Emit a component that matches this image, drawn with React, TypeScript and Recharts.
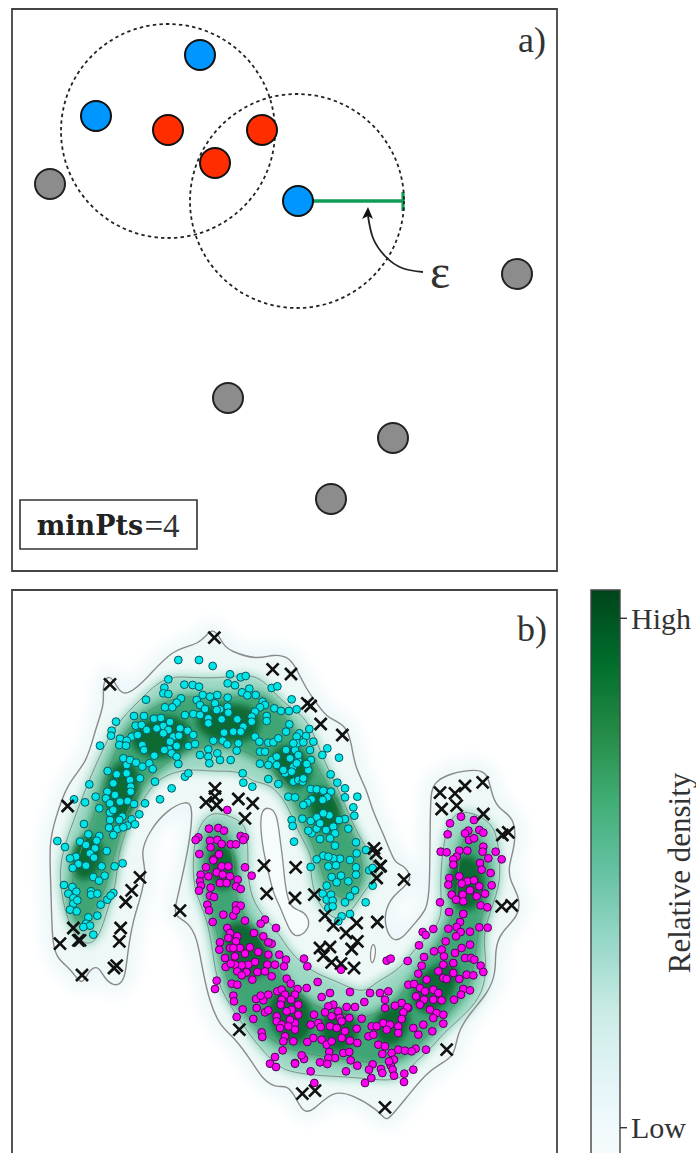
import { BarChart, Bar, Label, ReferenceArea, ReferenceDot, ReferenceLine, Scatter, ScatterChart, XAxis, YAxis } from 'recharts';

type Pt = { x: number; y: number };
type Pair = [number, number];

const serif = '"Liberation Serif", serif';
const ink = '#333';

// panel a
const corePoints: Pair[] = [[168, 130], [262, 130], [215, 163]];
const borderPoints: Pair[] = [[200, 55], [96, 116], [298, 201]];
const noisePoints: Pair[] = [[50, 184], [517, 274], [228, 398], [393, 438], [331, 499]];
const epsCircles: Pair[] = [[168, 131], [297, 201]];
const arrowPath: Pair[] = [[423, 272], [402, 268], [385, 256], [373, 238], [368, 216]];
const arrowTip: Pair[] = [[368, 213]];

// panel b: read from four enlarged sheets, three sheet units to a pixel
const cyanTopLeft: Pair[] = [
  [535,210],[597,210],[638,228],[505,268],[690,253],[722,262],[737,258],[553,284],[578,285],[597,290],[683,280],[705,286],[815,294],[832,289],[493,293],[490,310],[505,312],[726,307],[748,296],[742,316],[767,315],[438,329],[543,325],[530,338],[495,352],[517,352],[608,315],[630,320],[652,315],[683,323],[590,330],[600,345],[645,340],[683,350],[660,358],[788,335],[795,345],[780,352],[875,328],[823,355],[843,363],[867,363],[890,358],[765,365],[755,380],[800,378],[402,378],[432,378],[348,395],[462,386],[483,384],[555,375],[580,372],[600,375],[625,385],[625,400],[615,357],[650,360],[685,368],[665,388],[712,388],[755,395],[800,393],[868,403],[898,430],[407,407],[425,405],[440,420],[490,408],[510,396],[540,415],[470,415],[335,422],[333,437],[395,440],[413,435],[360,446],[380,452],[358,465],[378,467],[300,467],[427,465],[432,480],[505,420],[490,430],[520,440],[537,437],[563,422],[580,435],[510,455],[530,468],[507,478],[493,480],[515,490],[530,500],[535,522],[463,497],[565,468],[585,462],[600,495],[625,478],[625,500],[652,490],[628,520],[660,510],[692,510],[640,452],[668,452],[682,463],[672,428],[700,425],[730,410],[722,425],[715,460],[710,482],[765,440],[778,455],[805,458],[820,457],[835,445],[858,425],[780,485],[795,485],[780,521],[815,510],[830,500],[858,480],[885,480],[805,525],[830,525],[855,550],[880,530],[895,510],[850,540],[870,505],[805,567],[835,582],[880,575],[865,620],[885,622],[875,690],[878,708],[882,755],[890,520],[895,495],[875,545],[895,570],[890,440],[893,460],[880,460],
  [370,505],[380,525],[390,510],[408,518],[427,530],[448,520],[458,537],[323,543],[350,553],[380,550],[340,580],[322,605],[345,615],[318,625],[390,570],[420,565],[392,590],[465,575],[555,560],[565,550],[515,595],[480,628],[728,550],[730,578],[757,590],[268,583],[222,628],[255,637],[287,620],[392,605],[330,640],[360,635],[383,633],[402,642],[298,655],[435,640],[330,668],[340,660],[367,680],[395,688],[418,673],[405,703],[382,707],[330,690],[358,690],[252,702],[327,713],[352,717],[370,712],[340,735],[265,733],[240,755],[298,738],[290,752],[258,765],[285,775],[172,753],[195,771],[270,790],[320,783],[282,803],[228,800],[210,805],
];
const cyanTopRight: Pair[] = [
  [118,417],[130,455],[108,438],[100,457],[120,480],[172,475],[157,495],[207,503],[123,510],[115,540],[110,522],[98,575],[100,565],[182,553],[202,578],[225,595],[262,620],[225,622],[250,652],[253,677],[225,687],[207,690],[190,710],[178,676],[160,670],[140,682],[122,693],[235,716],[195,730],[180,745],[150,747],[125,730],[115,722],[140,716],[168,720],[195,767],[258,757],[288,780],[160,797],[140,808],[260,790],[240,810],[210,806],[190,805],[175,800],[122,597],[140,598],[160,602],[183,605],[172,622],[158,630],[125,628],[112,638],[100,645],[97,686],[150,700],
];
const cyanBottomLeft: Pair[] = [
  [235,33],[218,45],[258,38],[305,40],[344,40],[368,31],[280,72],[297,83],[314,68],[192,96],[217,102],[229,116],[205,122],[273,115],[273,125],[292,122],[220,135],[220,152],[232,142],[340,120],[322,140],[302,155],[210,170],[230,175],[265,193],[292,188],[258,212],[270,218],[250,222],[280,245],[332,128],
];
const cyanBottomRight: Pair[] = [
  [122,42],[175,40],[198,37],[258,43],[258,65],[213,68],[185,72],[200,88],[235,85],[298,52],[308,98],[170,98],[255,112],[158,122],[170,140],[183,125],[188,143],[175,165],[188,160],[240,130],[225,148],[287,148],[240,183],[215,190],[205,205],[308,45],
];

const magentaTopLeft: Pair[] = [
  [682,660],[627,716],[655,714],[672,722],[722,738],[735,742],[730,750],[595,742],[587,750],[652,750],[630,752],[632,772],[665,762],[692,763],[708,763],[598,792],[657,793],[640,808],
];
const magentaTopRight: Pair[] = [
  [540,700],[573,680],[612,690],[533,733],[595,722],[585,730],[628,720],[640,728],[597,750],[612,745],[640,770],[512,785],[530,787],[568,782],[592,782],[677,785],[695,808],[655,805],[638,785],[560,800],[550,808],
];
const magentaBottomLeft: Pair[] = [
  [618,43],[640,22],[665,40],[685,40],[735,43],[755,68],[602,65],[625,70],[650,58],[668,65],[690,70],[600,85],[603,98],[597,113],[632,104],[660,90],[680,90],[713,80],[708,100],[722,108],[630,128],[642,132],[622,155],[627,172],[708,157],[722,158],[670,185],[700,188],[708,172],[735,203],[638,207],[795,200],[782,212],[828,225],[682,225],[690,240],[685,255],[762,240],[712,250],[708,265],[790,250],[660,268],[690,285],[720,285],[750,283],[658,290],[735,302],[775,297],[700,285],[675,315],[705,310],[765,327],[745,335],[725,337],[705,335],[677,342],[692,332],[805,305],[815,272],[805,268],[838,305],[858,320],[802,335],[825,335],[852,340],[712,355],[740,358],[772,357],[795,355],[725,367],[757,380],[815,370],[860,377],[872,392],[650,383],[645,408],[695,392],[712,395],[700,428],[702,445],[768,438],[790,442],[805,425],[782,428],[832,415],[845,410],[893,408],[855,425],[885,425],[873,440],[845,440],[842,455],[875,470],[895,455],[728,469],[770,465],[795,478],[805,472],[710,492],[760,498],[830,490],[860,475],[830,505],[885,510],[895,485],[845,515],[870,500],[855,550],[880,565],[850,565],[785,538],[787,552],[848,592],[825,612],[810,632],[828,642],[885,630],[865,520],[885,530],[840,525],
];
const magentaBottomRight: Pair[] = [
  [662,60],[665,97],[630,30],[635,50],[550,35],[538,75],[535,95],[568,70],[592,85],[612,82],[628,100],[575,92],[600,112],[620,130],[645,122],[578,125],[545,125],[558,140],[632,157],[652,163],[510,148],[580,145],[537,177],[580,183],[570,207],[535,227],[560,222],[572,237],[600,236],[628,223],[653,224],[490,228],[458,237],[467,246],[447,277],[527,265],[558,250],[600,275],[575,285],[492,295],[515,290],[522,310],[555,300],[585,315],[603,315],[613,320],[462,312],[413,324],[350,323],[362,317],[455,338],[520,335],[505,355],[550,330],[632,338],[640,357],[520,375],[530,378],[550,360],[568,378],[590,365],[610,367],[445,362],[470,380],[415,395],[432,393],[450,405],[438,430],[465,415],[490,410],[462,440],[490,440],[515,442],[505,420],[580,408],[600,412],[552,440],[573,425],[450,455],[480,470],[500,480],[520,485],[490,495],[520,512],[460,515],[487,535],[430,525],[445,545],[415,465],[395,450],[375,458],[412,463],[400,478],[395,498],[355,415],[330,420],[345,440],[345,465],[300,420],[283,447],[240,417],[180,420],[143,387],[110,405],[102,317],[112,340],[213,350],[155,432],[190,455],[175,460],[205,475],[185,490],[210,495],[165,478],[230,462],[255,462],[238,495],[275,497],[132,485],[122,515],[145,510],[152,522],[180,520],[200,525],[215,505],[260,527],[225,535],[295,550],[305,520],[320,520],[340,510],[360,515],[385,520],[385,540],[350,530],[310,545],[325,575],[345,580],[337,603],[365,600],[385,590],[405,593],[437,587],[468,590],[425,595],[130,555],[112,567],[155,560],[170,575],[185,565],[215,555],[240,563],[262,570],[178,597],[220,600],[238,597],[195,615],[175,615],[150,628],[172,633],[242,622],[262,638],[308,634],[297,650],[333,648],[337,660],[372,620],[362,637],[357,625],[368,650],[372,668],[403,662],[430,650],[402,687],[304,675],[285,690],[228,655],[122,655],[133,690],[102,618],[95,607],[75,632],
];

const noiseTopLeft: Pair[] = [[643,143],[818,238],[873,252],[330,283],[645,595],[645,620],[618,637],[650,645],[715,627],[758,640],[735,685],[203,648]];
const noiseTopRight: Pair[] = [[112,340],[122,348],[152,402],[217,435],[312,775],[318,790],[332,828],[510,608],[555,610],[585,588],[638,577],[515,657],[560,647],[640,672],[697,735],[715,727]];
const noiseBottomLeft: Pair[] = [[792,38],[887,43],[420,73],[395,112],[377,147],[800,122],[885,135],[540,173],[220,225],[235,262],[240,262],[180,272],[362,225],[358,265],[350,338],[342,345],[246,366],[718,530]];
const noiseBottomRight: Pair[] = [[330,40],[320,75],[402,80],[133,125],[165,188],[190,217],[260,210],[322,207],[228,240],[262,265],[245,288],[150,285],[180,282],[160,308],[185,328],[213,332],[252,345],[695,160],[725,157],[530,590],[97,722],[135,713],[345,763]];

// density contours, picture pixels
const outerContour: Pair[] = [
  [213,624],[223,645],[230,651],[257,660],[273,654],[290,657],[298,672],[307,690],[318,705],[327,718],[347,725],[352,747],[355,767],[367,790],[372,810],[385,837],[395,865],[403,864],[413,878],[403,888],[393,896],[385,910],[385,928],[393,942],[403,938],[413,925],[427,910],[430,890],[430,797],[433,783],[450,773],[477,769],[488,773],[492,797],[500,810],[514,817],[516,843],[508,867],[510,881],[520,898],[519,916],[500,933],[495,950],[496,973],[488,993],[470,1013],[457,1033],[455,1056],[440,1064],[427,1073],[410,1093],[390,1118],[385,1120],[378,1110],[353,1095],[333,1090],[313,1111],[303,1113],[295,1096],[287,1085],[277,1088],[263,1080],[253,1063],[233,1036],[220,1026],[210,1003],[203,973],[197,936],[187,921],[173,916],[177,900],[183,873],[190,840],[193,807],[187,800],[167,810],[150,830],[140,853],[147,870],[140,900],[133,920],[127,956],[125,982],[113,987],[103,976],[98,965],[88,971],[82,987],[72,970],[56,958],[52,940],[51,886],[49,843],[55,820],[67,783],[87,763],[95,730],[105,703],[102,687],[108,674],[115,682],[122,697],[140,687],[173,647],[200,646],
];
const contourHole: Pair[] = [[268,807],[277,812],[280,840],[283,860],[285,886],[290,908],[300,910],[308,916],[310,928],[298,938],[290,933],[280,906],[273,893],[268,870],[263,850],[260,823],[262,810]];
const contourSliver: Pair[] = [[373,943],[376,948],[375,958],[372,965],[370,958],[371,948]];
const upperBand: Pair[] = [
  [87,948],[70,930],[60,890],[60,860],[70,830],[85,790],[100,755],[115,725],[140,700],[165,675],[193,678],[225,678],[253,673],[270,687],[283,703],[307,717],[320,750],[327,767],[342,797],[355,830],[370,853],[380,877],[367,886],[353,910],[337,923],[320,906],[313,890],[310,866],[313,857],[297,830],[287,803],[270,783],[253,783],[240,770],[213,772],[187,768],[157,778],[143,800],[128,823],[117,857],[117,883],[107,910],[100,936],
];
const lowerBand: Pair[] = [
  [210,810],[233,817],[247,825],[248,853],[248,886],[257,910],[277,930],[290,953],[313,973],[337,981],[363,995],[377,981],[400,970],[413,950],[430,936],[443,916],[440,890],[442,850],[450,817],[463,810],[483,817],[497,830],[500,863],[500,886],[487,920],[483,940],[487,966],[483,993],[467,1013],[443,1033],[430,1050],[410,1066],[400,1083],[355,1077],[320,1076],[290,1072],[277,1066],[253,1040],[233,1010],[217,983],[213,953],[207,916],[193,890],[193,853],[197,830],
];
const upperMid: Pair[] = [[75,925],[68,895],[80,850],[95,815],[100,790],[120,740],[135,720],[165,700],[195,695],[235,700],[265,690],[290,725],[320,770],[340,810],[360,850],[365,880],[345,905],[325,885],[318,855],[300,815],[285,775],[260,760],[235,745],[205,745],[175,755],[150,775],[130,800],[115,850],[105,890],[90,925]];
const lowerMid: Pair[] = [[212,825],[225,830],[235,860],[233,890],[245,920],[265,945],[285,985],[310,1005],[340,1015],[365,1020],[395,1005],[415,975],[440,945],[458,905],[458,860],[465,830],[478,835],[488,860],[490,890],[478,925],[475,965],[465,995],[440,1020],[415,1050],[390,1065],[350,1060],[310,1055],[275,1045],[250,1020],[228,990],[222,950],[212,915],[205,885],[203,850]];
const densityCores: Pair[][] = [
  [[75,850],[88,835],[100,845],[98,865],[85,880],[75,870]],
  [[108,800],[112,770],[130,760],[138,780],[130,810],[115,825]],
  [[130,735],[160,715],[190,725],[185,750],[160,755],[140,752]],
  [[195,715],[225,705],[260,712],[255,735],[235,740],[205,735]],
  [[270,755],[290,745],[310,765],[305,785],[285,785]],
  [[310,790],[330,790],[340,815],[330,835],[315,820]],
  [[212,845],[228,848],[235,875],[225,890],[212,880]],
  [[228,925],[250,925],[270,955],[262,975],[240,975],[228,950]],
  [[272,995],[295,990],[312,1015],[305,1040],[285,1040],[272,1020]],
  [[322,1015],[345,1010],[358,1030],[345,1050],[325,1045]],
  [[378,1015],[400,1005],[410,1020],[395,1045],[378,1040]],
  [[415,985],[440,965],[458,965],[450,995],[430,1012],[415,1005]],
  [[452,865],[470,855],[482,875],[478,905],[460,910],[452,890]],
];
const panelBTicks = [604, 713, 822, 930, 1039, 1148];

// colour bar
const densityStops = ['#00441b', '#006d2c', '#238b45', '#41ae76', '#66c2a4', '#99d8c9', '#ccece6', '#e5f5f9', '#f7fcfd'];
const colorbarTicks = [0.05, 0.95];
const colorbarRow = [{ name: 'density', top: 1 }];

const toPts = (rows: Pair[]): Pt[] => rows.map(([x, y]) => ({ x, y }));
const fromSheet = (rows: Pair[], left: number, top: number): Pt[] =>
  rows.map(([x, y]) => ({ x: left + x / 3, y: top + y / 3 }));
const onSheets = (tl: Pair[], tr: Pair[], bl: Pair[], br: Pair[]): Pt[] => [
  ...fromSheet(tl, 0, 590),
  ...fromSheet(tr, 270, 590),
  ...fromSheet(bl, 0, 853),
  ...fromSheet(br, 270, 853),
];

const dot = (r: number, fill: string, stroke: string, strokeWidth: number) => (p: any) => (
  <circle cx={p.cx} cy={p.cy} r={r} fill={fill} stroke={stroke} strokeWidth={strokeWidth} />
);
const cross = (p: any) => (
  <path
    d={`M${p.cx - 6} ${p.cy - 6}L${p.cx + 6} ${p.cy + 6}M${p.cx - 6} ${p.cy + 6}L${p.cx + 6} ${p.cy - 6}`}
    stroke="#111"
    strokeWidth={2.7}
    fill="none"
  />
);
const arrowHead = (p: any) => (
  <path d={`M${p.cx} ${p.cy - 6}L${p.cx + 5} ${p.cy + 6}L${p.cx} ${p.cy + 3}L${p.cx - 6} ${p.cy + 6}Z`} fill="#111" />
);
const noMark = () => <g />;

const region = (key: string, rows: Pair[], line: any) => (
  <Scatter
    key={key}
    data={toPts(rows)}
    shape={noMark}
    line={line}
    lineJointType="basisClosed"
    isAnimationActive={false}
  />
);

const word = (x: number, y: number, value: string, size: number, extra: any = {}) => (
  <ReferenceDot
    x={x}
    y={y}
    r={0}
    fill="none"
    stroke="none"
    label={{ value, position: 'center', fontSize: size, fontFamily: serif, fill: ink, ...extra }}
  />
);

function PanelA() {
  return (
    <ScatterChart width={570} height={580} margin={{ top: 9, right: 13, bottom: 9, left: 12 }} style={{ position: 'absolute', left: 0, top: 0 }}>
      <XAxis type="number" dataKey="x" domain={[12, 557]} hide allowDataOverflow />
      <YAxis type="number" dataKey="y" domain={[9, 571]} reversed hide allowDataOverflow />
      {epsCircles.map(([x, y]) => (
        <ReferenceDot key={x} x={x} y={y} r={107} fill="none" stroke="#222" strokeWidth={1.8} strokeDasharray="3.4 3.2" />
      ))}
      <ReferenceLine segment={[{ x: 313, y: 201 }, { x: 403, y: 201 }]} stroke="#0f9d58" strokeWidth={3.4} />
      <ReferenceLine segment={[{ x: 403, y: 192 }, { x: 403, y: 211 }]} stroke="#0f9d58" strokeWidth={3.2} />
      <Scatter data={toPts(corePoints)} shape={dot(15, '#ff2d00', '#111', 2)} isAnimationActive={false} />
      <Scatter data={toPts(borderPoints)} shape={dot(15, '#0096ff', '#111', 2)} isAnimationActive={false} />
      <Scatter data={toPts(noisePoints)} shape={dot(15, '#8c8c8c', '#222', 2)} isAnimationActive={false} />
      <Scatter data={toPts(arrowPath)} shape={noMark} line={{ stroke: '#222', strokeWidth: 1.8 }} lineJointType="natural" isAnimationActive={false} />
      <Scatter data={toPts(arrowTip)} shape={arrowHead} isAnimationActive={false} />
      {word(440, 271, 'ε', 48)}
      {word(532, 39, 'a)', 36)}
      <ReferenceArea x1={20} x2={197} y1={500} y2={549} fill="#fff" fillOpacity={1} stroke="#333" strokeWidth={1.6} />
      {word(90, 525, 'minPts', 27, { fontFamily: '"DejaVu Serif", serif', fontWeight: 700, fill: '#222' })}
      {word(162, 525, '=4', 33)}
      <ReferenceArea x1={12} x2={557} y1={9} y2={571} fill="none" stroke="#444" strokeWidth={1.8} />
    </ScatterChart>
  );
}

function PanelB() {
  return (
    <ScatterChart width={570} height={590} margin={{ top: 10, right: 13, bottom: 14, left: 0 }} style={{ position: 'absolute', left: 0, top: 580 }}>
      <defs>
        <filter id="softWide" x="-20%" y="-20%" width="140%" height="140%">
          <feGaussianBlur stdDeviation="8" />
        </filter>
        <filter id="softMid" x="-20%" y="-20%" width="140%" height="140%">
          <feGaussianBlur stdDeviation="4" />
        </filter>
        <filter id="softCore" x="-50%" y="-50%" width="200%" height="200%">
          <feGaussianBlur stdDeviation="3" />
        </filter>
      </defs>
      <XAxis type="number" dataKey="x" domain={[12, 557]} hide allowDataOverflow />
      <YAxis
        type="number"
        dataKey="y"
        domain={[590, 1156]}
        reversed
        width={12}
        ticks={panelBTicks}
        tick={false}
        tickSize={6}
        tickLine={{ stroke: '#444', strokeWidth: 1.5 }}
        axisLine={false}
        allowDataOverflow
      />
      {region('halo', outerContour, { fill: '#edf7fa', stroke: '#edf7fa', strokeWidth: 20, filter: 'url(#softWide)' })}
      {region('pale', outerContour, { fill: '#eef8f7', stroke: 'none' })}
      {region('upperBandFill', upperBand, { fill: '#9dd8c4', stroke: '#9dd8c4', strokeWidth: 5, filter: 'url(#softMid)' })}
      {region('lowerBandFill', lowerBand, { fill: '#9dd8c4', stroke: '#9dd8c4', strokeWidth: 5, filter: 'url(#softMid)' })}
      {region('upperMidFill', upperMid, { fill: '#3fa574', stroke: '#3fa574', strokeWidth: 7, filter: 'url(#softMid)' })}
      {region('lowerMidFill', lowerMid, { fill: '#3fa574', stroke: '#3fa574', strokeWidth: 7, filter: 'url(#softMid)' })}
      {densityCores.map((rows, i) => region(`core${i}`, rows, { fill: '#0a6a30', stroke: '#0a6a30', strokeWidth: 8, filter: 'url(#softCore)' }))}
      {region('holeFill', contourHole, { fill: '#f6fbfc', stroke: '#8a8a8a', strokeWidth: 1.3 })}
      {region('sliver', contourSliver, { fill: '#f6fbfc', stroke: '#8a8a8a', strokeWidth: 1.2 })}
      {region('upperBandLine', upperBand, { fill: 'none', stroke: '#7f8f88', strokeWidth: 1 })}
      {region('lowerBandLine', lowerBand, { fill: 'none', stroke: '#7f8f88', strokeWidth: 1 })}
      {region('upperMidLine', upperMid, { fill: 'none', stroke: '#5f8f76', strokeWidth: 0.9 })}
      {region('lowerMidLine', lowerMid, { fill: 'none', stroke: '#5f8f76', strokeWidth: 0.9 })}
      {region('outerLine', outerContour, { fill: 'none', stroke: '#8a8a8a', strokeWidth: 1.4 })}
      <Scatter
        data={onSheets(cyanTopLeft, cyanTopRight, cyanBottomLeft, cyanBottomRight)}
        shape={dot(3.9, '#00e6e6', '#0b5560', 1)}
        isAnimationActive={false}
      />
      <Scatter
        data={onSheets(magentaTopLeft, magentaTopRight, magentaBottomLeft, magentaBottomRight)}
        shape={dot(3.9, '#ff00f0', '#4a0a55', 1)}
        isAnimationActive={false}
      />
      <Scatter
        data={onSheets(noiseTopLeft, noiseTopRight, noiseBottomLeft, noiseBottomRight)}
        shape={cross}
        isAnimationActive={false}
      />
      {word(532, 628, 'b)', 36)}
      <ReferenceArea x1={12} x2={557} y1={590} y2={1156} fill="none" stroke="#444" strokeWidth={1.8} />
    </ScatterChart>
  );
}

function Colorbar() {
  return (
    <BarChart
      width={116}
      height={590}
      data={colorbarRow}
      barCategoryGap={0}
      margin={{ top: 10, right: 0, bottom: 14, left: 11 }}
      style={{ position: 'absolute', left: 580, top: 580 }}
    >
      <defs>
        <linearGradient id="densityRamp" x1="0" y1="0" x2="0" y2="1">
          {densityStops.map((c, i) => (
            <stop key={c} offset={i / (densityStops.length - 1)} stopColor={c} />
          ))}
        </linearGradient>
      </defs>
      <XAxis dataKey="name" hide />
      <YAxis
        orientation="right"
        width={76}
        domain={[0, 1]}
        ticks={colorbarTicks}
        tickFormatter={(v: number) => (v > 0.5 ? 'High' : 'Low')}
        tick={{ fontSize: 30, fontFamily: serif, fill: ink }}
        tickSize={7}
        tickMargin={4}
        tickLine={{ stroke: '#333', strokeWidth: 1.4 }}
        axisLine={false}
      >
        <Label value="Relative density" angle={-90} position="insideRight" offset={17} style={{ fontSize: 31, fontFamily: serif, fill: ink, textAnchor: 'middle' }} />
      </YAxis>
      <Bar dataKey="top" fill="url(#densityRamp)" stroke="#444" strokeWidth={1.4} isAnimationActive={false} />
    </BarChart>
  );
}

export default function App() {
  return (
    <div style={{ position: 'absolute', left: 0, top: 0, width: 696, height: 1153, overflow: 'hidden', background: '#fff' }}>
      <PanelA />
      <PanelB />
      <Colorbar />
    </div>
  );
}
